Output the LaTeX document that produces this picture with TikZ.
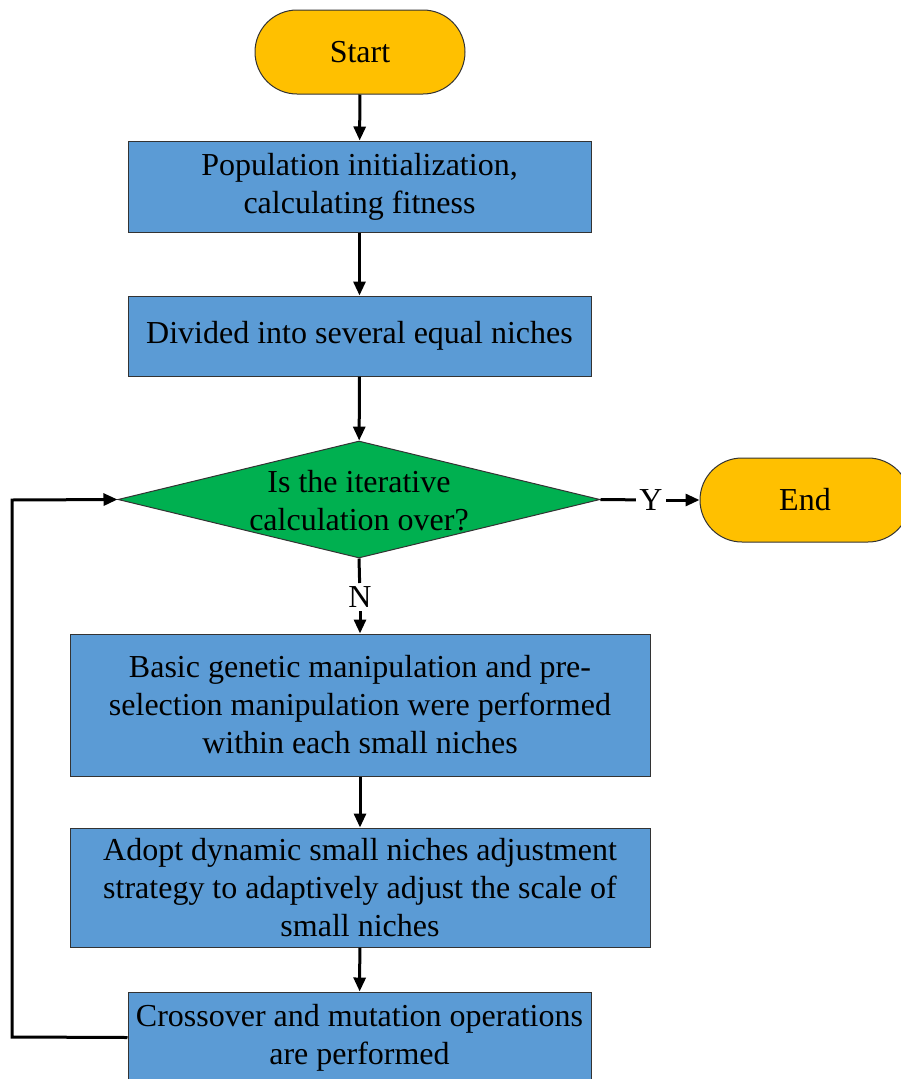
\documentclass[tikz,border=0pt]{standalone}
\usepackage{fontspec}
\setmainfont{Liberation Serif}
\usetikzlibrary{shapes.geometric,arrows.meta}
\definecolor{termfill}{HTML}{FFC000}
\definecolor{procfill}{HTML}{5B9BD5}
\definecolor{decfill}{HTML}{00B050}
\begin{document}
\begin{tikzpicture}[x=1pt,y=-1pt,
  every node/.style={font=\fontsize{32}{38}\selectfont},
  terminal/.style={draw=black!80,line width=1pt,fill=termfill,rounded corners=42pt,
    minimum width=210pt,minimum height=84pt,inner sep=0pt},
  procbox/.style={draw=black!80,line width=1pt,fill=procfill,align=center,inner sep=0pt},
  decision/.style={draw=black!80,line width=1pt,fill=decfill,diamond,aspect=4.1,
    minimum width=482pt,minimum height=117pt,inner sep=0pt,align=center},
  flow/.style={line width=3pt,-{Triangle[length=14pt,width=12pt]}},
  plain/.style={line width=3pt}]
\useasboundingbox (0,0) rectangle (901,1079);
\node[terminal] (start) at (360,52) {Start};
\node[procbox,minimum width=463pt,minimum height=91pt] (init) at (359.5,186.5)
  {Population initialization,\\calculating fitness};
\node[procbox,minimum width=463pt,minimum height=80pt] (divide) at (359.5,336)
  {Divided into several equal niches};
\node[decision] (iter) at (359,499.5) {};
\node at (359,501) [align=center] {Is the iterative\\calculation over?};
\node[terminal] (end) at (805,500) {End};
\node[procbox,minimum width=580pt,minimum height=142pt] (basic) at (360,705)
  {Basic genetic manipulation and pre-\\selection manipulation were performed\\within each small niches};
\node[procbox,minimum width=580pt,minimum height=119pt] (adopt) at (360,887.5)
  {Adopt dynamic small niches adjustment\\strategy to adaptively adjust the scale of\\small niches};
\node[procbox,minimum width=463pt,minimum height=91pt] (cross) at (359.5,1037.5)
  {Crossover and mutation operations\\are performed};
\node (ylab) at (651,500) {Y};
\node (nlab) at (360,597) {N};
\coordinate (loopb) at (12,1037);
\coordinate (loopt) at (12,500);
\draw[flow] (start) -- (init);
\draw[flow] (init) -- (divide);
\draw[flow] (divide) -- (iter);
\draw[plain] (iter.east) -- (ylab);
\draw[flow] (ylab) -- (end);
\draw[plain] (iter.south) -- (nlab);
\draw[flow] (nlab) -- (basic);
\draw[flow] (basic) -- (adopt);
\draw[flow] (adopt) -- (cross);
\draw[flow] (cross.west) -- (loopb) -- (loopt) -- (iter.west);
\end{tikzpicture}
\end{document}
